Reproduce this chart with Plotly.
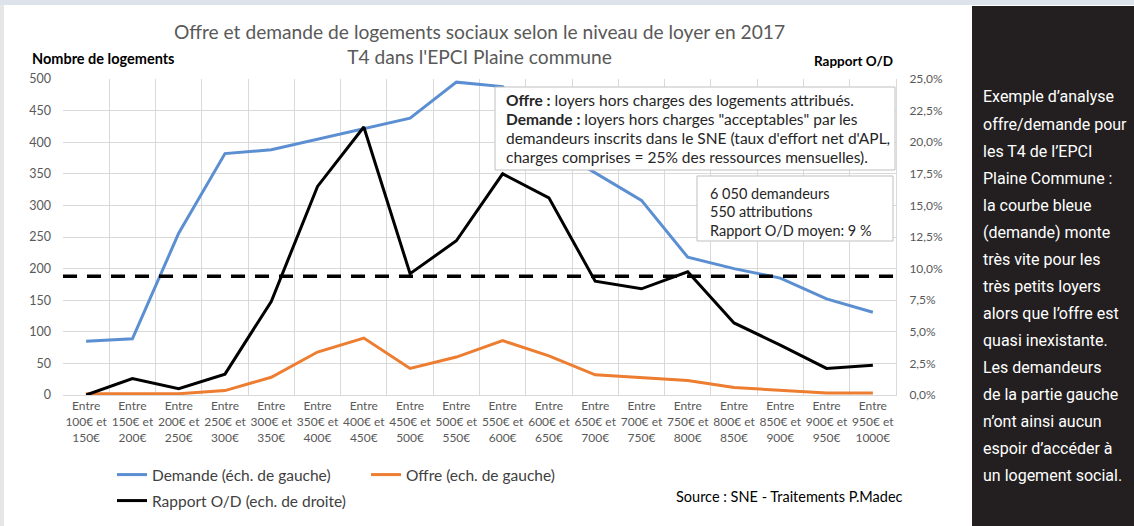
import plotly.graph_objects as go

# ---------------- data ----------------
categories = [
    "Entre<br>100€ et<br>150€", "Entre<br>150€ et<br>200€", "Entre<br>200€ et<br>250€",
    "Entre<br>250€ et<br>300€", "Entre<br>300€ et<br>350€", "Entre<br>350€ et<br>400€",
    "Entre<br>400€ et<br>450€", "Entre<br>450€ et<br>500€", "Entre<br>500€ et<br>550€",
    "Entre<br>550€ et<br>600€", "Entre<br>600€ et<br>650€", "Entre<br>650€ et<br>700€",
    "Entre<br>700€ et<br>750€", "Entre<br>750€ et<br>800€", "Entre<br>800€ et<br>850€",
    "Entre<br>850€ et<br>900€", "Entre<br>900€ et<br>950€", "Entre<br>950€ et<br>1000€",
]
demande = [85, 89, 256, 382, 388, 405, 422, 438, 495, 488, 395, 352, 308, 218, 200, 185, 152, 131]
offre = [2, 2, 2, 7, 28, 68, 90, 42, 60, 86, 62, 32, 27, 23, 12, 8, 3, 3]
rapport_pct = [0.0, 1.3, 0.5, 1.65, 7.4, 16.5, 21.2, 9.6, 12.2, 17.5, 15.6, 9.0, 8.4, 9.75, 5.7, 3.95, 2.1, 2.35]
rapport_moyen_pct = 9.4
left_ticks = list(range(0, 501, 50))

note_lines = [
    "<b>Offre :</b> loyers hors charges des logements attribués.",
    "<b>Demande :</b> loyers hors charges \"acceptables\" par les",
    "demandeurs inscrits dans le SNE (taux d'effort net d'APL,",
    "charges comprises = 25% des ressources mensuelles).",
]
summary_lines = ["6 050 demandeurs", "550 attributions", "Rapport O/D moyen: 9 %"]

side_text = [
    "Exemple d’analyse", "offre/demande pour", "les T4 de l’EPCI", "Plaine Commune :",
    "la courbe bleue", "(demande) monte", "très vite pour les", "très petits loyers",
    "alors que l’offre est", "quasi inexistante.", "Les demandeurs", "de la partie gauche",
    "n’ont ainsi aucun", "espoir d’accéder à", "un logement social.",
]

rapport = [v / 100 for v in rapport_pct]

# ---------------- layout helpers ----------------
W, H = 1134, 526
PL, PR, PT, PB = 63, 896, 79, 395  # plot area in pixels
PW, PH = PR - PL, PB - PT


def px(x):
    return (x - PL) / PW


def py(y):
    return (PB - y) / PH


FONT = "Lato, 'Open Sans', sans-serif"
GRAY = "#595959"
BLUE = "#5b8fd2"
ORANGE = "#ed7d31"

fig = go.Figure()
fig.add_trace(go.Scatter(x=categories, y=demande, mode="lines", name="Demande (éch. de gauche)",
                         line=dict(color=BLUE, width=3), legend="legend"))
fig.add_trace(go.Scatter(x=categories, y=offre, mode="lines", name="Offre (ech. de gauche)",
                         line=dict(color=ORANGE, width=3), legend="legend"))
fig.add_trace(go.Scatter(x=categories, y=rapport, mode="lines", name="Rapport O/D (ech. de droite)",
                         line=dict(color="#000000", width=3), yaxis="y2", legend="legend2"))


def rect(x0, y0, x1, y1, fill, line_color=None, layer="above"):
    return dict(type="rect", xref="paper", yref="paper", x0=px(x0), x1=px(x1), y0=py(y1), y1=py(y0),
                fillcolor=fill, layer=layer,
                line=dict(width=1 if line_color else 0, color=line_color or fill))


shapes = [
    dict(type="line", xref="paper", x0=0, x1=1, yref="y2", y0=rapport_moyen_pct / 100, y1=rapport_moyen_pct / 100,
         line=dict(color="#000000", width=3.5, dash="14px,10px"), layer="above"),
    rect(0, 0, W, 5, "#dde3ea"),
    rect(0, 5, 4, H, "#e6e6e6"),
    rect(972, 6, W, H, "#231f20"),
    rect(495, 87, 895, 170, "#ffffff", "#bfbfbf"),
    rect(697, 176, 893, 241, "#ffffff", "#bfbfbf"),
]

annotations = [
    dict(text="<b>Nombre de logements</b>", xref="paper", yref="paper", x=px(30), y=py(58),
         xanchor="left", yanchor="middle", showarrow=False, font=dict(family=FONT, size=14.5, color="#000")),
    dict(text="<b>Rapport O/D</b>", xref="paper", yref="paper", x=px(895), y=py(61),
         xanchor="right", yanchor="middle", showarrow=False, font=dict(family=FONT, size=13.5, color="#000")),
    dict(text="Source : SNE - Traitements P.Madec", xref="paper", yref="paper", x=px(905), y=py(496),
         xanchor="right", yanchor="middle", showarrow=False, font=dict(family=FONT, size=14.5, color="#000")),
]

for i, line in enumerate(note_lines):
    annotations.append(dict(text=line, xref="paper", yref="paper", x=px(504), y=py(100 + i * 19),
                            xanchor="left", yanchor="middle", showarrow=False,
                            font=dict(family=FONT, size=15.5, color="#262626")))

for i, line in enumerate(summary_lines):
    annotations.append(dict(text=line, xref="paper", yref="paper", x=px(708), y=py(193 + i * 18.5),
                            xanchor="left", yanchor="middle", showarrow=False,
                            font=dict(family=FONT, size=14.5, color="#262626")))

for i, line in enumerate(side_text):
    annotations.append(dict(text=line, xref="paper", yref="paper", x=px(981), y=py(97 + i * 27),
                            xanchor="left", yanchor="middle", showarrow=False,
                            font=dict(family="Roboto, sans-serif", size=16, color="#ffffff")))

fig.update_layout(
    width=W, height=H,
    margin=dict(l=PL, r=W - PR, t=PT, b=H - PB, pad=0, autoexpand=False),
    paper_bgcolor="#ffffff", plot_bgcolor="#ffffff",
    separators=", ",
    font=dict(family=FONT, color=GRAY),
    title=dict(text="Offre et demande de logements sociaux selon le niveau de loyer en 2017<br>"
                    "T4 dans l'EPCI Plaine commune",
               x=0.5, xref="paper", xanchor="center", y=1 - 39 / H, yref="container", yanchor="middle",
               font=dict(family=FONT, size=19.2, color=GRAY)),
    xaxis=dict(type="category", tickson="boundaries", showgrid=True, gridcolor="#d9d9d9", gridwidth=1,
               ticks="", showline=True, linecolor="#d9d9d9", tickangle=0, automargin=False,
               tickfont=dict(family=FONT, size=12, color=GRAY),
               range=[-0.5, len(categories) - 0.5]),
    yaxis=dict(range=[0, 500], tickvals=left_ticks, showgrid=True, gridcolor="#d9d9d9", gridwidth=1,
               zeroline=False, ticks="", ticklabelstandoff=11, automargin=False,
               tickfont=dict(family=FONT, size=12.5, color=GRAY)),
    yaxis2=dict(range=[0, 0.25], dtick=0.025, tickformat=".1%", overlaying="y", side="right",
                showgrid=False, zeroline=False, ticks="", showline=True, linecolor="#d9d9d9",
                ticklabelstandoff=10, automargin=False, tickfont=dict(family=FONT, size=12, color=GRAY)),
    legend=dict(orientation="h", x=px(112), xanchor="left", y=py(458), yanchor="top",
                entrywidth=209, bgcolor="rgba(0,0,0,0)", font=dict(family=FONT, size=15.5, color="#404040")),
    legend2=dict(orientation="h", x=px(112), xanchor="left", y=py(484), yanchor="top",
                 bgcolor="rgba(0,0,0,0)", font=dict(family=FONT, size=15.5, color="#404040")),
    shapes=shapes,
    annotations=annotations,
)

fig.write_html("out.html", config={"displayModeBar": False},
               post_script="document.body.style.margin='0';")
